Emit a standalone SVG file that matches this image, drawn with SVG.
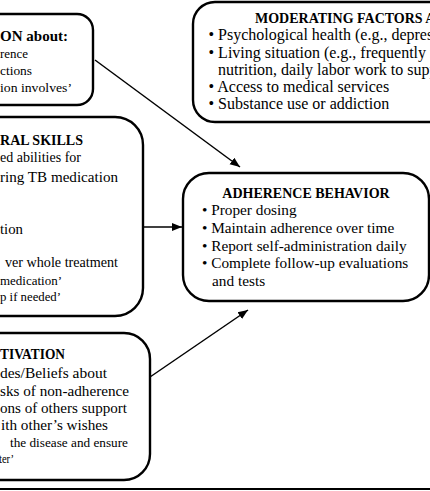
<svg xmlns="http://www.w3.org/2000/svg" width="430" height="491" viewBox="0 0 430 491">
<style>
.box{fill:#fff;stroke:#000;stroke-width:2.4}
text{font-family:"Liberation Serif","Times New Roman",serif;fill:#000;font-size:15px}
.b{font-weight:bold;font-size:14px}
.m{font-size:16px}
.a{font-size:15.3px}
.i{font-size:13.5px}
.k{font-size:14px}
.s{font-size:13px}
.c{stroke:#000;stroke-width:1.5;fill:none}
</style>
<defs>
<marker id="ah" viewBox="0 0 10 10" refX="10" refY="5" markerWidth="10" markerHeight="10" markerUnits="userSpaceOnUse" orient="auto">
<path d="M0,1 L10,5 L0,9 z" fill="#000"/>
</marker>
</defs>
<rect width="430" height="491" fill="#fff"/>
<g id="information">
<rect class="box" x="-40" y="14" width="133" height="91" rx="16"/>
<text class="b" x="0" y="41" textLength="68" lengthAdjust="spacingAndGlyphs">ON about:</text>
<text class="i" x="0" y="58" textLength="28" lengthAdjust="spacingAndGlyphs">rence</text>
<text class="i" x="0" y="75" textLength="32" lengthAdjust="spacingAndGlyphs">ctions</text>
<text class="i" x="0" y="92" textLength="72" lengthAdjust="spacingAndGlyphs">ion involves’</text>
</g>
<g id="moderating">
<rect class="box" x="193" y="2" width="260" height="120" rx="22"/>
<text class="b" x="255" y="23">MODERATING FACTORS A</text>
<text class="m" x="208.5" y="40">• Psychological health (e.g., depres</text>
<text class="m" x="208.5" y="58">• Living situation (e.g., frequently r</text>
<text class="m" x="218" y="75">nutrition, daily labor work to supp</text>
<text class="m" x="208.5" y="92">• Access to medical services</text>
<text class="m" x="208.5" y="109">• Substance use or addiction</text>
</g>
<g id="skills">
<rect class="box" x="-40" y="117" width="183" height="199" rx="28"/>
<text class="b" x="0" y="145" textLength="83" lengthAdjust="spacingAndGlyphs">RAL SKILLS</text>
<text class="k" x="0" y="162" textLength="81" lengthAdjust="spacingAndGlyphs">ed abilities for</text>
<text x="0" y="182" textLength="118" lengthAdjust="spacingAndGlyphs">ring TB medication</text>
<text class="k" x="0" y="234" textLength="23" lengthAdjust="spacingAndGlyphs">tion</text>
<text class="k" x="5" y="267" textLength="113" lengthAdjust="spacingAndGlyphs">ver whole treatment</text>
<text class="s" x="0" y="285" textLength="62" lengthAdjust="spacingAndGlyphs">medication’</text>
<text class="s" x="0" y="301" textLength="61" lengthAdjust="spacingAndGlyphs">p if needed’</text>
</g>
<g id="adherence">
<rect class="box" x="183" y="173" width="246" height="128" rx="26"/>
<text class="b" x="306" y="198" text-anchor="middle">ADHERENCE BEHAVIOR</text>
<text class="a" x="202" y="215">• Proper dosing</text>
<text class="a" x="202" y="233">• Maintain adherence over time</text>
<text class="a" x="202" y="251">• Report self-administration daily</text>
<text class="a" x="202" y="268">• Complete follow-up evaluations</text>
<text class="a" x="212" y="286">and tests</text>
</g>
<g id="motivation">
<rect class="box" x="-40" y="333" width="190" height="147" rx="26"/>
<text class="b" x="0" y="359" textLength="65" lengthAdjust="spacingAndGlyphs">TIVATION</text>
<text x="0" y="378" textLength="107" lengthAdjust="spacingAndGlyphs">des/Beliefs about</text>
<text x="0" y="396" textLength="129" lengthAdjust="spacingAndGlyphs">sks of non-adherence</text>
<text x="0" y="413" textLength="127" lengthAdjust="spacingAndGlyphs">ons of others support</text>
<text x="1" y="430" textLength="107" lengthAdjust="spacingAndGlyphs">ith other’s wishes</text>
<text class="s" x="10" y="447" textLength="118" lengthAdjust="spacingAndGlyphs">the disease and ensure</text>
<text class="s" x="-1" y="463" textLength="15" lengthAdjust="spacingAndGlyphs">ter’</text>
</g>
<g id="connectors">
<line class="c" x1="95" y1="60" x2="240" y2="167" marker-end="url(#ah)"/>
<line class="c" x1="143" y1="227" x2="182" y2="227" marker-end="url(#ah)"/>
<line class="c" x1="150" y1="377" x2="248" y2="310" marker-end="url(#ah)"/>
<line class="c" x1="429" y1="239" x2="432" y2="239"/>
<line x1="0" y1="489" x2="430" y2="489" stroke="#000" stroke-width="1.8"/>
</g>
</svg>
